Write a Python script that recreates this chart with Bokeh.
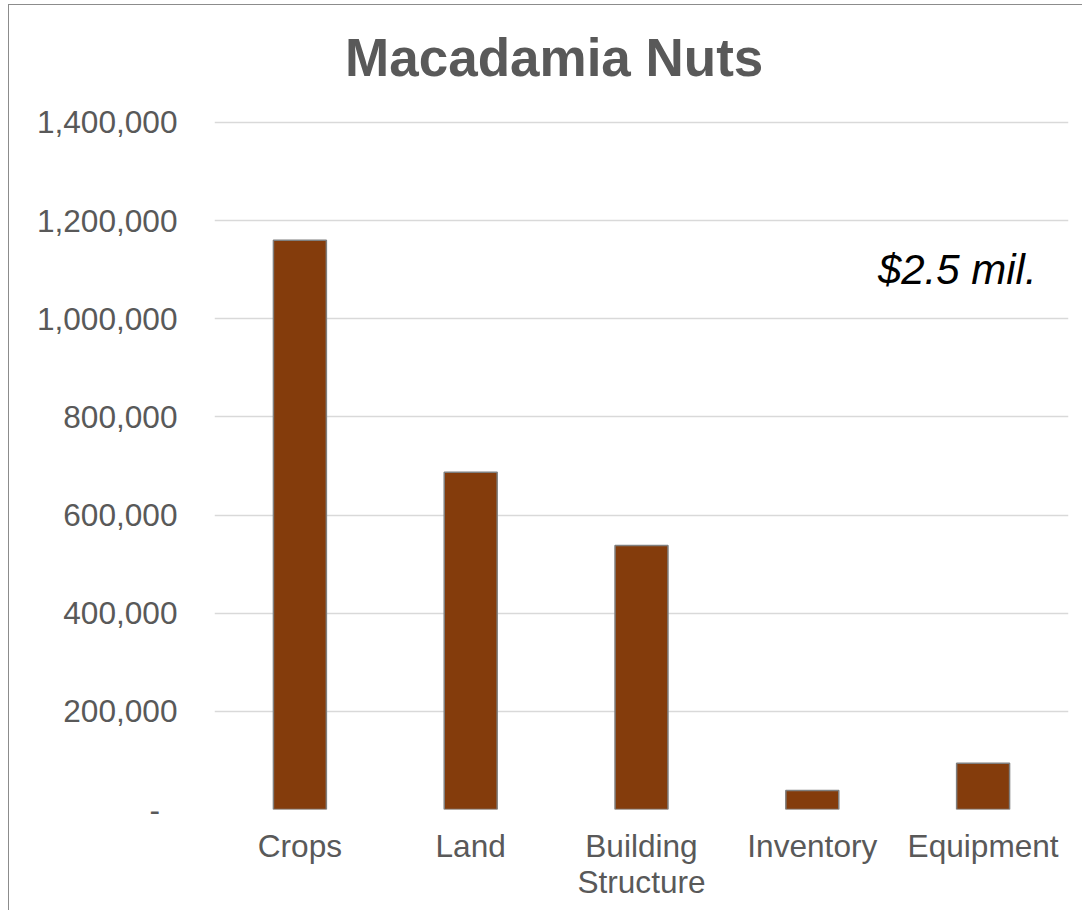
from bokeh.plotting import figure
from bokeh.models import ColumnDataSource, Range1d, FixedTicker, NumeralTickFormatter, Label
from bokeh.embed import file_html
from bokeh.resources import INLINE

categories = ["Crops", "Land", "Building\nStructure", "Inventory", "Equipment"]
values = [1160000, 687000, 538000, 38700, 94000]
y_ticks = [0, 200000, 400000, 600000, 800000, 1000000, 1200000, 1400000]
title_text = "Macadamia Nuts"
note_text = "$2.5 mil."

FONT = "Liberation Sans"
GREY = "#595959"

# frame extends to the top of the chart so the title sits inside it
Y_TOP = 1638400

p = figure(x_range=categories, width=1074, height=906,
           output_backend="svg", toolbar_location=None,
           min_border_left=205, min_border_right=15,
           min_border_top=0, min_border_bottom=102)
p.x_range.range_padding = 0
p.y_range = Range1d(0, Y_TOP)
p.outline_line_color = None
p.background_fill_color = "white"
p.border_fill_color = "white"
p.styles = {"margin-left": "8px", "margin-top": "4px",
            "border-left": "1px solid #8c8c8c", "border-top": "1px solid #8c8c8c"}

src = ColumnDataSource(dict(cat=categories, val=values))
p.vbar(x="cat", top="val", width=0.31, source=src,
       fill_color="#843C0C", line_color="#7f7f7f", line_width=1.5)

p.xgrid.grid_line_color = None
p.ygrid.grid_line_color = "#d9d9d9"
p.ygrid.grid_line_width = 1.5
p.yaxis.ticker = FixedTicker(ticks=y_ticks)
p.yaxis.formatter = NumeralTickFormatter(format="0,0")
p.yaxis.major_label_overrides = {0: "-\u00a0\u00a0"}

for ax in (p.xaxis[0], p.yaxis[0]):
    ax.axis_line_color = None
    ax.major_tick_line_color = None
    ax.minor_tick_line_color = None
    ax.major_tick_out = 0
    ax.major_tick_in = 0
    ax.major_label_text_font = FONT
    ax.major_label_text_font_size = "31.6px"
    ax.major_label_text_color = GREY

p.yaxis.major_label_standoff = 37
p.xaxis.major_label_standoff = 18
p.xaxis.major_label_text_line_height = 1.0

p.add_layout(Label(x=1.989, y=1532500, text=title_text, text_font=FONT,
                   text_font_size="53px", text_font_style="bold",
                   text_color=GREY, text_align="center",
                   text_baseline="alphabetic"))
p.add_layout(Label(x=3.884, y=1101000, text=note_text, text_font=FONT,
                   text_font_size="42px", text_font_style="italic",
                   text_color="black", text_align="left",
                   text_baseline="alphabetic"))

open("out.html", "w").write(file_html(p, INLINE))
